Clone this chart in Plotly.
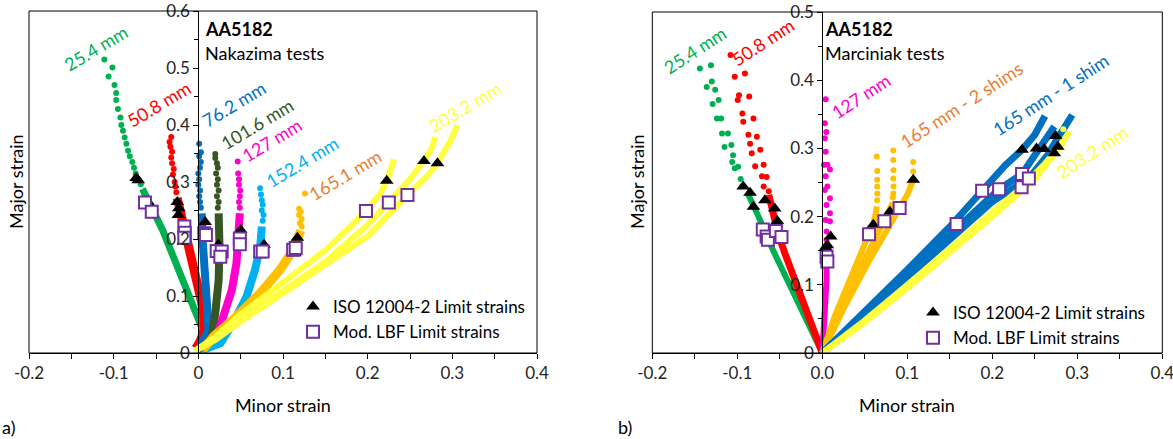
import plotly.graph_objects as go

W, H = 1173, 439
FONT = "Lato"

# ---------------- colours ----------------
C_GREEN = "#00B050"
C_RED = "#FF0000"
C_BLUE = "#0070C0"
C_DKGREEN = "#375623"
C_MAGENTA = "#FF00CC"
C_LTBLUE = "#00B0F0"
C_ORANGE = "#FFC000"
C_ORANGE_TXT = "#ED7D31"
C_YELLOW = "#FFFF40"
C_PURPLE = "#7030A0"

# ---------------- panel a (Nakazima) data ----------------
a_green_band = [(0.0, 0.0), (0.004, 0.02), (0.004, 0.045), (-0.002, 0.068), (-0.012, 0.1),
                (-0.027, 0.16), (-0.042, 0.215), (-0.055, 0.255), (-0.066, 0.288)]
a_green_dots = [(-0.068, 0.296), (-0.071, 0.305), (-0.074, 0.315), (-0.076, 0.325), (-0.078, 0.335),
                (-0.081, 0.345), (-0.083, 0.355), (-0.085, 0.367), (-0.087, 0.378), (-0.089, 0.39),
                (-0.091, 0.40), (-0.092, 0.413), (-0.095, 0.428), (-0.097, 0.444), (-0.097, 0.456),
                (-0.099, 0.47), (-0.106, 0.485), (-0.1015, 0.501), (-0.111, 0.515)]
a_red_band = [(-0.003, 0.008), (0.002, 0.02), (0.007, 0.04), (0.007, 0.065), (0.003, 0.095),
              (-0.002, 0.128), (-0.01, 0.175), (-0.016, 0.21), (-0.0215, 0.245), (-0.025, 0.272)]
a_red_dots = [(-0.026, 0.282), (-0.027, 0.292), (-0.028, 0.30), (-0.030, 0.313), (-0.029, 0.323),
              (-0.031, 0.333), (-0.032, 0.343), (-0.031, 0.353), (-0.033, 0.362), (-0.034, 0.37),
              (-0.032, 0.379)]
a_blue_band = [(0.0, 0.005), (0.012, 0.04), (0.010, 0.09), (0.007, 0.14), (0.005, 0.2), (0.004, 0.245)]
a_blue_dots = [(0.003, 0.255), (0.002, 0.265), (0.001, 0.275), (0.002, 0.285), (0.0, 0.295),
               (0.001, 0.305), (0.0, 0.315), (0.002, 0.325), (0.003, 0.335), (0.001, 0.345),
               (0.003, 0.352), (0.001, 0.367)]
a_dkgreen_band = [(0.004, 0.005), (0.016, 0.029), (0.020, 0.07), (0.024, 0.128), (0.025, 0.186),
                  (0.024, 0.245)]
a_dkgreen_dots = [(0.023, 0.255), (0.024, 0.265), (0.022, 0.275), (0.024, 0.285), (0.022, 0.295),
                  (0.023, 0.305), (0.021, 0.315), (0.023, 0.325), (0.022, 0.333), (0.020, 0.342),
                  (0.020, 0.349)]
a_magenta_band = [(0.005, 0.005), (0.020, 0.023), (0.0295, 0.064), (0.0395, 0.11), (0.045, 0.157),
                  (0.048, 0.204), (0.049, 0.245)]
a_magenta_dots = [(0.049, 0.255), (0.048, 0.265), (0.049, 0.275), (0.0495, 0.285), (0.048, 0.295),
                  (0.048, 0.305), (0.047, 0.315), (0.0465, 0.336)]
a_ltblue_band = [(0.005, 0.005), (0.026, 0.017), (0.041, 0.052), (0.057, 0.099), (0.067, 0.146),
                 (0.073, 0.186), (0.075, 0.222)]
a_ltblue_dots = [(0.076, 0.232), (0.077, 0.242), (0.075, 0.25), (0.076, 0.26), (0.075, 0.268),
                 (0.074, 0.278), (0.073, 0.289)]
a_orange_band = [(0.005, 0.005), (0.018, 0.029), (0.045, 0.064), (0.073, 0.105), (0.0965, 0.146),
                 (0.112, 0.181), (0.118, 0.204), (0.121, 0.215)]
a_orange_dots = [(0.122, 0.222), (0.120, 0.228), (0.122, 0.235), (0.119, 0.242), (0.121, 0.248),
                 (0.119, 0.253), (0.126, 0.28)]
a_yellow_1 = [(-0.004, 0.004), (0.02, 0.028), (0.05, 0.068), (0.1, 0.125), (0.15, 0.18), (0.18, 0.222),
              (0.199, 0.251), (0.215, 0.28), (0.2225, 0.302), (0.228, 0.325), (0.231, 0.34)]
a_yellow_2 = [(-0.004, 0.004), (0.02, 0.025), (0.05, 0.058), (0.1, 0.11), (0.15, 0.16), (0.2, 0.225),
              (0.225, 0.264), (0.25, 0.305), (0.2665, 0.337), (0.276, 0.36), (0.280, 0.379)]
a_yellow_3 = [(-0.004, 0.004), (0.02, 0.023), (0.05, 0.055), (0.1, 0.105), (0.15, 0.152), (0.2, 0.205),
              (0.247, 0.277), (0.27, 0.31), (0.2825, 0.333), (0.297, 0.37), (0.306, 0.40)]
a_iso = [(-0.0735, 0.307), (-0.071, 0.303), (-0.056, 0.258), (-0.0248, 0.265), (-0.023, 0.254),
         (-0.0236, 0.242), (0.008, 0.230), (0.0236, 0.19), (0.050, 0.216), (0.0776, 0.19),
         (0.117, 0.202), (0.114, 0.175), (0.2225, 0.302), (0.2665, 0.337), (0.2825, 0.333)]
a_lbf = [(-0.063, 0.264), (-0.055, 0.248), (-0.0165, 0.222), (-0.016, 0.211), (-0.0165, 0.202),
         (0.007, 0.21), (0.009, 0.207), (0.0217, 0.179), (0.0276, 0.178), (0.026, 0.169),
         (0.049, 0.201), (0.049, 0.191), (0.073, 0.178), (0.076, 0.178), (0.112, 0.181),
         (0.115, 0.184), (0.198, 0.249), (0.225, 0.264), (0.247, 0.277)]

# ---------------- panel b (Marciniak) data ----------------
b_green_band = [(0.0, 0.0), (-0.018, 0.046), (-0.036, 0.092), (-0.060, 0.156), (-0.075, 0.20),
                (-0.083, 0.222), (-0.088, 0.235)]
b_green_dots = [(-0.094, 0.245), (-0.096, 0.255), (-0.099, 0.273), (-0.103, 0.271), (-0.106, 0.28),
                (-0.105, 0.29), (-0.115, 0.302), (-0.107, 0.305), (-0.118, 0.322), (-0.111, 0.322),
                (-0.119, 0.344), (-0.124, 0.344), (-0.129, 0.365), (-0.122, 0.371), (-0.126, 0.386),
                (-0.136, 0.39), (-0.130, 0.398), (-0.131, 0.422), (-0.144, 0.417)]
b_red_band = [(0.0, 0.0), (-0.009, 0.029), (-0.028, 0.097), (-0.044, 0.146), (-0.052, 0.175),
              (-0.060, 0.215), (-0.063, 0.232)]
b_red_dots = [(-0.063, 0.237), (-0.069, 0.244), (-0.0655, 0.258), (-0.071, 0.259), (-0.069, 0.276),
              (-0.079, 0.274), (-0.083, 0.293), (-0.073, 0.298), (-0.085, 0.307), (-0.077, 0.317),
              (-0.087, 0.32), (-0.093, 0.339), (-0.081, 0.344), (-0.094, 0.351), (-0.0995, 0.371),
              (-0.086, 0.376), (-0.098, 0.378), (-0.103, 0.405), (-0.091, 0.41), (-0.108, 0.437)]
b_magenta_band = [(0.0, 0.0), (0.003, 0.05), (0.005, 0.107), (0.005, 0.15)]
b_magenta_dots = [(0.0055, 0.156), (0.005, 0.166), (0.005, 0.178), (0.009, 0.193), (0.004, 0.195),
                  (0.009, 0.205), (0.005, 0.217), (0.009, 0.227), (0.003, 0.239), (0.006, 0.244),
                  (0.004, 0.259), (0.009, 0.269), (0.002, 0.276), (0.006, 0.276), (0.004, 0.295),
                  (0.003, 0.315), (0.0047, 0.324), (0.003, 0.337), (0.004, 0.372)]
b_orange_1 = [(0.0, 0.0), (0.015, 0.055), (0.035, 0.115), (0.055, 0.174), (0.06, 0.19), (0.063, 0.205),
              (0.064, 0.215)]
b_orange_2 = [(0.0, 0.0), (0.02, 0.06), (0.045, 0.125), (0.073, 0.193), (0.0795, 0.207), (0.083, 0.22)]
b_orange_3 = [(0.0, 0.0), (0.025, 0.065), (0.055, 0.135), (0.091, 0.212), (0.1, 0.232), (0.107, 0.254)]
b_orange_dots = [(0.0645, 0.224), (0.0647, 0.234), (0.0646, 0.244), (0.0646, 0.254), (0.0647, 0.267),
                 (0.064, 0.288), (0.083, 0.228), (0.0835, 0.234), (0.0838, 0.244), (0.0835, 0.256),
                 (0.0838, 0.268), (0.0835, 0.283), (0.0835, 0.297), (0.107, 0.266), (0.107, 0.28)]
b_blue_1 = [(0.0, 0.0), (0.05, 0.06), (0.10, 0.122), (0.15, 0.185), (0.188, 0.238), (0.215, 0.275),
            (0.235, 0.298), (0.25, 0.32), (0.262, 0.3475)]
b_blue_2 = [(0.0, 0.0), (0.05, 0.057), (0.1, 0.115), (0.15, 0.174), (0.208, 0.24), (0.235, 0.2625),
            (0.252, 0.292), (0.262, 0.31), (0.273, 0.332)]
b_blue_3 = [(0.0, 0.0), (0.05, 0.055), (0.1, 0.11), (0.15, 0.168), (0.2, 0.222), (0.243, 0.256),
            (0.265, 0.29), (0.2745, 0.31), (0.285, 0.33), (0.294, 0.349)]
b_yellow_1 = [(0.0, 0.0), (0.05, 0.048), (0.1, 0.1), (0.15, 0.153), (0.2, 0.207), (0.2345, 0.243),
              (0.26, 0.275), (0.277, 0.3), (0.291, 0.3245)]
b_yellow_2 = [(0.0, 0.0), (0.05, 0.045), (0.1, 0.095), (0.15, 0.147), (0.2, 0.2), (0.25, 0.255),
              (0.273, 0.29), (0.285, 0.31)]
b_yellow_dots = [(0.2835, 0.328)]
b_iso = [(-0.093, 0.244), (-0.085, 0.235), (-0.081, 0.2145), (-0.0675, 0.224), (-0.056, 0.212),
         (-0.053, 0.1935), (0.0098, 0.171), (0.006, 0.158), (0.004, 0.155), (0.06, 0.188),
         (0.0795, 0.207), (0.107, 0.254), (0.235, 0.298), (0.252, 0.30), (0.261, 0.299),
         (0.2745, 0.318), (0.277, 0.3025), (0.273, 0.293)]
b_lbf = [(-0.070, 0.181), (-0.0655, 0.171), (-0.064, 0.166), (-0.0546, 0.179), (-0.048, 0.17),
         (0.005, 0.141), (0.006, 0.134), (0.055, 0.174), (0.073, 0.193), (0.091, 0.2125),
         (0.158, 0.189), (0.188, 0.238), (0.208, 0.24), (0.235, 0.2625), (0.2345, 0.243),
         (0.243, 0.256)]

# tick labels
a_xticks = [-0.2, -0.15, -0.1, -0.05, 0.0, 0.05, 0.1, 0.15, 0.2, 0.25, 0.3, 0.35, 0.4]
a_xtext = ["-0.2", "", "-0.1", "", "0", "", "0.1", "", "0.2", "", "0.3", "", "0.4"]
b_xtext = ["-0.2", "", "-0.1", "", "0.0", "", "0.1", "", "0.2", "", "0.3", "", "0.4"]
a_yticks = [0, 0.1, 0.2, 0.3, 0.4, 0.5, 0.6]
a_ytext = ["0", "0.1", "0.2", "0.3", "0.4", "0.5", "0.6"]
b_yticks = [0, 0.1, 0.2, 0.3, 0.4, 0.5]
b_ytext = ["0", "0.1", "0.2", "0.3", "0.4", "0.5"]

fig = go.Figure()


def xs(p):
    return [v[0] for v in p]


def ys(p):
    return [v[1] for v in p]


def band(p, color, width, xa, ya):
    fig.add_trace(go.Scatter(x=xs(p), y=ys(p), mode="lines", line=dict(color=color, width=width),
                             xaxis=xa, yaxis=ya, showlegend=False, hoverinfo="skip"))


def dots(p, color, xa, ya, size=6):
    fig.add_trace(go.Scatter(x=xs(p), y=ys(p), mode="markers", marker=dict(color=color, size=size),
                             xaxis=xa, yaxis=ya, showlegend=False, hoverinfo="skip"))


# panel a curves
band(a_green_band, C_GREEN, 7, "x", "y"); dots(a_green_dots, C_GREEN, "x", "y")
band(a_red_band, C_RED, 9, "x", "y"); dots(a_red_dots, C_RED, "x", "y")
band(a_blue_band, C_BLUE, 8, "x", "y"); dots(a_blue_dots, C_BLUE, "x", "y")
band(a_dkgreen_band, C_DKGREEN, 8, "x", "y"); dots(a_dkgreen_dots, C_DKGREEN, "x", "y")
band(a_magenta_band, C_MAGENTA, 8, "x", "y"); dots(a_magenta_dots, C_MAGENTA, "x", "y")
band(a_ltblue_band, C_LTBLUE, 8, "x", "y"); dots(a_ltblue_dots, C_LTBLUE, "x", "y")
band(a_orange_band, C_ORANGE, 9, "x", "y"); dots(a_orange_dots, C_ORANGE, "x", "y")
band(a_yellow_1, C_YELLOW, 6, "x", "y")
band(a_yellow_2, C_YELLOW, 6, "x", "y")
band(a_yellow_3, C_YELLOW, 6, "x", "y")

# panel b curves
band(b_green_band, C_GREEN, 6, "x2", "y2"); dots(b_green_dots, C_GREEN, "x2", "y2")
band(b_red_band, C_RED, 7, "x2", "y2"); dots(b_red_dots, C_RED, "x2", "y2")
band(b_magenta_band, C_MAGENTA, 6, "x2", "y2"); dots(b_magenta_dots, C_MAGENTA, "x2", "y2")
band(b_orange_1, C_ORANGE, 6, "x2", "y2")
band(b_orange_2, C_ORANGE, 6, "x2", "y2")
band(b_orange_3, C_ORANGE, 6, "x2", "y2")
dots(b_orange_dots, C_ORANGE, "x2", "y2")
band(b_blue_1, C_BLUE, 7, "x2", "y2")
band(b_blue_2, C_BLUE, 7, "x2", "y2")
band(b_blue_3, C_BLUE, 7, "x2", "y2")
band(b_yellow_1, C_YELLOW, 6, "x2", "y2")
band(b_yellow_2, C_YELLOW, 6, "x2", "y2")
dots(b_yellow_dots, C_YELLOW, "x2", "y2")

ISO_NAME = "ISO 12004-2 Limit strains"
LBF_NAME = "Mod. LBF Limit strains"
TRI = dict(symbol="triangle-up", color="black", size=12)
SQR = dict(symbol="square", color="white", size=12, line=dict(color=C_PURPLE, width=2))

fig.add_trace(go.Scatter(x=xs(a_iso), y=ys(a_iso), mode="markers", marker=TRI, name=ISO_NAME,
                         xaxis="x", yaxis="y", legend="legend", legendgroup="a1"))
fig.add_trace(go.Scatter(x=xs(a_lbf), y=ys(a_lbf), mode="markers", marker=SQR, name=LBF_NAME,
                         xaxis="x", yaxis="y", legend="legend", legendgroup="a2"))
fig.add_trace(go.Scatter(x=xs(b_iso), y=ys(b_iso), mode="markers", marker=TRI, name=ISO_NAME,
                         xaxis="x2", yaxis="y2", legend="legend2", legendgroup="b1"))
fig.add_trace(go.Scatter(x=xs(b_lbf), y=ys(b_lbf), mode="markers", marker=SQR, name=LBF_NAME,
                         xaxis="x2", yaxis="y2", legend="legend2", legendgroup="b2"))


def px(v):
    return v / W


def py(v):
    return 1 - v / H


A_X0, A_X1, A_Y0, A_Y1 = 29, 537, 11, 353
B_X0, B_X1, B_Y0, B_Y1 = 652.3, 1162.3, 12, 353
TICK_FONT = dict(size=17, color="#262626")

common_x = dict(showgrid=False, zeroline=False, showline=True, linecolor="black", linewidth=1,
                ticks="outside", ticklen=5, tickcolor="black", tickfont=TICK_FONT,
                range=[-0.2, 0.4], automargin=False, ticklabeloverflow="allow")
common_y = dict(showgrid=False, zeroline=False, showline=True, linecolor="black", linewidth=1,
                ticks="outside", ticklen=5, tickcolor="black", tickfont=TICK_FONT, automargin=False,
                ticklabeloverflow="allow",
                minor=dict(ticks="outside", ticklen=4, dtick=0.05, tickcolor="black"))

fig.update_layout(
    width=W, height=H, margin=dict(l=0, r=0, t=0, b=0, autoexpand=False), autosize=False,
    paper_bgcolor="white", plot_bgcolor="white",
    font=dict(family=FONT, size=17, color="black"),
    xaxis=dict(domain=[px(A_X0), px(A_X1)], anchor="y", tickvals=a_xticks, ticktext=a_xtext, **common_x),
    yaxis=dict(domain=[py(A_Y1), py(A_Y0)], anchor="free",
               position=px(A_X0 + (A_X1 - A_X0) / 3), range=[0, 0.6],
               tickvals=a_yticks, ticktext=a_ytext, **common_y),
    xaxis2=dict(domain=[px(B_X0), px(B_X1)], anchor="y2", tickvals=a_xticks, ticktext=b_xtext, **common_x),
    yaxis2=dict(domain=[py(B_Y1), py(B_Y0)], anchor="free",
                position=px(B_X0 + (B_X1 - B_X0) / 3), range=[0, 0.5],
                tickvals=b_yticks, ticktext=b_ytext, **common_y),
    legend=dict(x=px(293), y=py(289), xanchor="left", yanchor="top", bgcolor="rgba(0,0,0,0)",
                font=dict(size=17), traceorder="grouped", tracegroupgap=0),
    legend2=dict(x=px(913), y=py(295), xanchor="left", yanchor="top", bgcolor="rgba(0,0,0,0)",
                 font=dict(size=17), traceorder="grouped", tracegroupgap=0),
)

# plot-area frames
fig.add_shape(type="rect", xref="x domain", yref="y domain", x0=0, x1=1, y0=0, y1=1,
              line=dict(color="black", width=1))
fig.add_shape(type="rect", xref="x2 domain", yref="y2 domain", x0=0, x1=1, y0=0, y1=1,
              line=dict(color="black", width=1))


def ann(x, y, text, color="black", size=18, angle=0, xanchor="center", bold=False):
    fig.add_annotation(x=px(x), y=py(y), xref="paper", yref="paper",
                       text=("<b>%s</b>" % text) if bold else text,
                       showarrow=False, textangle=angle, xanchor=xanchor, yanchor="middle",
                       borderpad=0, font=dict(family=FONT, size=size, color=color))


# curve labels panel a
ann(96, 48, "25.4 mm", C_GREEN, angle=-31)
ann(159, 104, "50.8 mm", C_RED, angle=-31)
ann(234, 104, "76.2 mm", C_BLUE, angle=-31)
ann(257, 124, "101.6 mm", C_DKGREEN, angle=-31)
ann(272, 140, "127 mm", C_MAGENTA, angle=-31)
ann(302, 162, "152.4 mm", C_LTBLUE, angle=-31)
ann(345, 175, "165.1 mm", C_ORANGE_TXT, angle=-31)
ann(465, 107, "203.2 mm", C_YELLOW, angle=-31)
# curve labels panel b
ann(695, 50, "25.4 mm", C_GREEN, angle=-33)
ann(763, 42, "50.8 mm", C_RED, angle=-33)
ann(861, 96, "127 mm", C_MAGENTA, angle=-33)
ann(961, 105, "165 mm - 2 shims", C_ORANGE_TXT, angle=-33)
ann(1050, 95, "165 mm - 1 shim", C_BLUE, angle=-33)
ann(1092, 152, "203.2 mm", C_YELLOW, angle=-33)

# panel titles
ann(204, 29, "AA5182", xanchor="left", bold=True, size=18)
ann(204, 53, "Nakazima tests", xanchor="left", size=18)
ann(824, 29, "AA5182", xanchor="left", bold=True, size=18)
ann(824, 53, "Marciniak tests", xanchor="left", size=18)

# axis titles
ann((A_X0 + A_X1) / 2, 405, "Minor strain", size=18)
ann((B_X0 + B_X1) / 2, 405, "Minor strain", size=18)
ann(16, 182, "Major strain", size=18, angle=-90)
ann(637, 182, "Major strain", size=18, angle=-90)

# panel letters
ann(1, 427, "a)", xanchor="left", size=18)
ann(617, 427, "b)", xanchor="left", size=18)

fig.write_html("out.html", post_script="document.body.style.margin='0';")
